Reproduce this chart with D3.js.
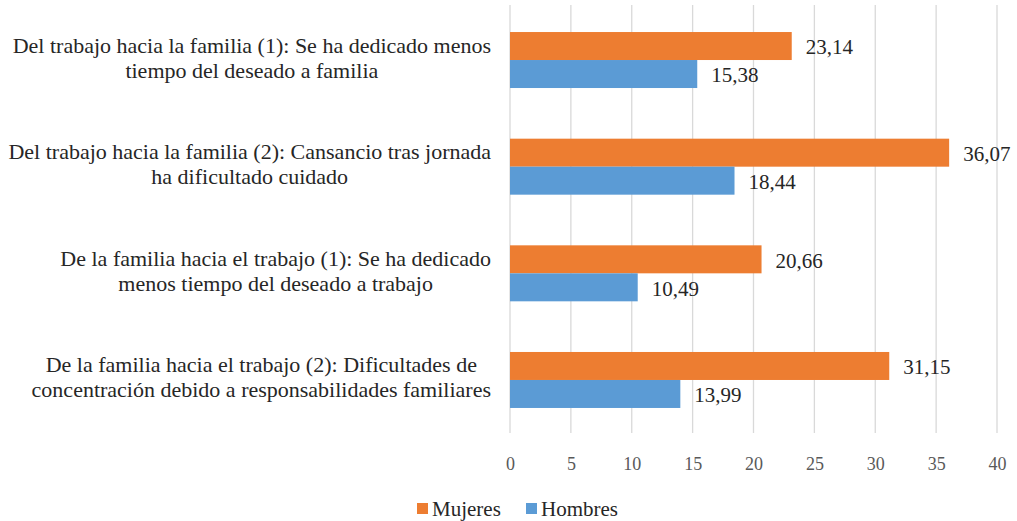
<!DOCTYPE html>
<html><head><meta charset="utf-8">
<script src="https://cdn.jsdelivr.net/npm/d3@7"></script>
<style>body{margin:0;background:#fff}svg{display:block}</style>
</head><body><svg id="c" width="1017" height="521"></svg>
<script>
const categories = [
  ["Del trabajo hacia la familia (1): Se ha dedicado menos", "tiempo del deseado a familia"],
  ["Del trabajo hacia la familia (2): Cansancio tras jornada", "ha dificultado cuidado"],
  ["De la familia hacia el trabajo (1): Se ha dedicado", "menos tiempo del deseado a trabajo"],
  ["De la familia hacia el trabajo (2): Dificultades de", "concentración debido a responsabilidades familiares"]
];
const seriesNames = ["Mujeres", "Hombres"];
const mujeres = [23.14, 36.07, 20.66, 31.15];
const hombres = [15.38, 18.44, 10.49, 13.99];
const xTicks = [0, 5, 10, 15, 20, 25, 30, 35, 40];
const colors = ["#ED7D31", "#5B9BD5"];
const FONT = "Liberation Serif";

const svg = d3.select("#c");
const x = d3.scaleLinear().domain([0, 40]).range([510, 997]);
const y = d3.scaleBand().domain(d3.range(categories.length)).range([6.7, 433.3]).paddingInner(0.475).paddingOuter(0.2375);
const ySub = d3.scaleBand().domain([0, 1]).range([0, y.bandwidth()]);

// gridlines
svg.append("g").selectAll("line").data(xTicks).join("line")
  .attr("x1", d => x(d)).attr("x2", d => x(d)).attr("y1", 5).attr("y2", 433)
  .attr("stroke", "#d9d9d9").attr("stroke-width", 1.3);

// x axis tick labels
const ax = svg.append("g").attr("transform", "translate(0,433)")
  .call(d3.axisBottom(x).tickValues(xTicks).tickSize(0).tickPadding(24).tickFormat(d3.format("d")));
ax.select(".domain").remove();
ax.attr("font-family", FONT).attr("font-size", 18);
ax.selectAll("text").attr("font-family", FONT).attr("font-size", 18).attr("fill", "#595959");

const series = [mujeres, hombres];
series.forEach((vals, si) => {
  const g = svg.append("g");
  g.selectAll("rect").data(vals).join("rect")
    .attr("x", x(0)).attr("y", (d, i) => y(i) + ySub(si))
    .attr("width", d => x(d) - x(0)).attr("height", ySub.bandwidth())
    .attr("fill", colors[si]);
  g.selectAll("text").data(vals).join("text")
    .attr("x", d => x(d) + 14).attr("y", (d, i) => y(i) + ySub(si) + ySub.bandwidth() / 2)
    .attr("dy", "0.4em")
    .attr("font-family", FONT).attr("font-size", 21).attr("fill", "#262626")
    .text(d => d.toFixed(2).replace(".", ","));
});

// category labels: block right-aligned to the axis, lines centered in the block
const labelRight = 491;
categories.forEach((lines, i) => {
  const cy = y(i) + y.bandwidth() / 2;
  const t = svg.append("text").attr("text-anchor", "middle")
    .attr("font-family", FONT).attr("font-size", 22).attr("fill", "#262626");
  const spans = lines.map((l, k) =>
    t.append("tspan").attr("y", cy + (k - (lines.length - 1) / 2) * 25 + 5).text(l));
  const maxW = d3.max(spans, s => s.node().getComputedTextLength());
  spans.forEach(s => s.attr("x", labelRight - maxW / 2));
});

// legend
const leg = svg.append("g");
const legX = [417, 526];
seriesNames.forEach((n, i) => {
  leg.append("rect").attr("x", legX[i]).attr("y", 503).attr("width", 11).attr("height", 11).attr("fill", colors[i]);
  leg.append("text").attr("x", legX[i] + 15).attr("y", 516)
    .attr("font-family", FONT).attr("font-size", 21).attr("fill", "#262626").text(n);
});
</script></body></html>
